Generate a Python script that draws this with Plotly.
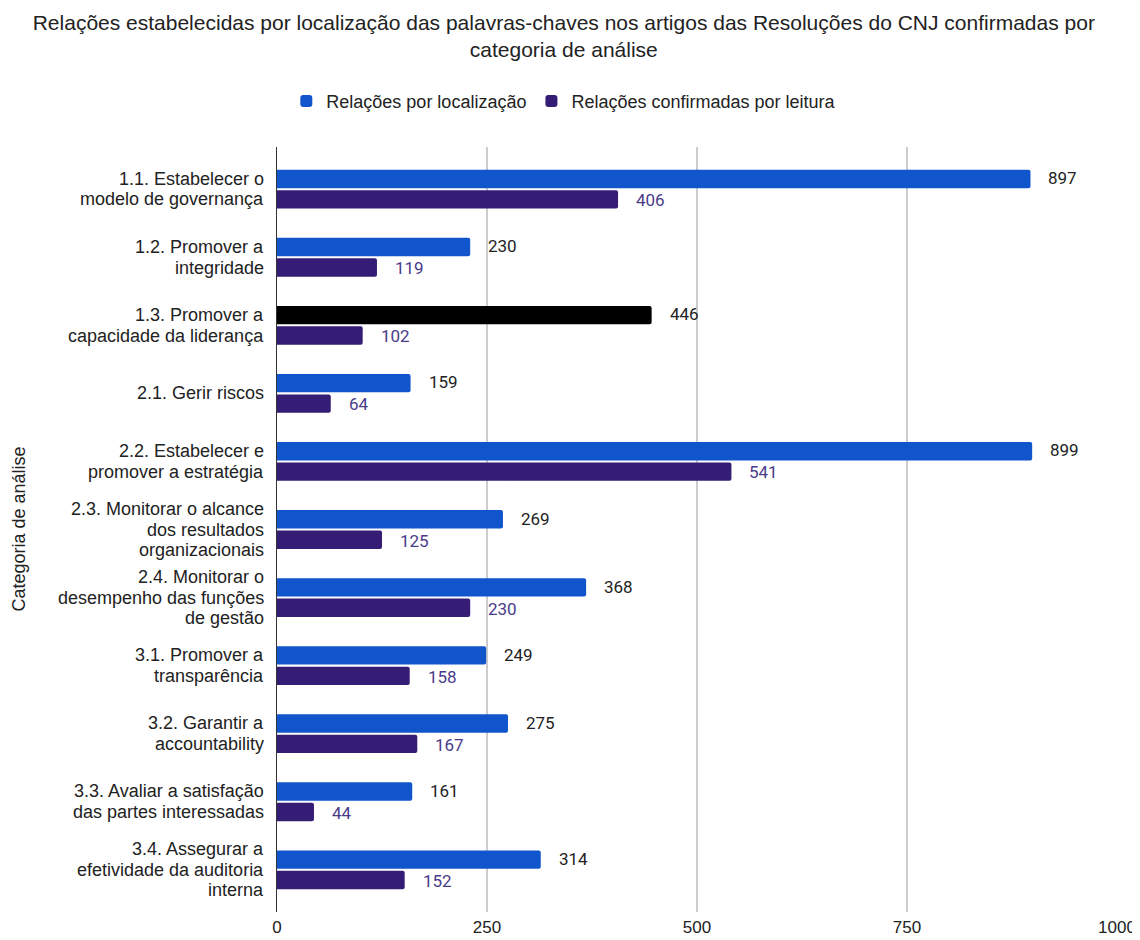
import plotly.graph_objects as go

categories = [
    "1.1. Estabelecer o<br>modelo de governança",
    "1.2. Promover a<br>integridade",
    "1.3. Promover a<br>capacidade da liderança",
    "2.1. Gerir riscos",
    "2.2. Estabelecer e<br>promover a estratégia",
    "2.3. Monitorar o alcance<br>dos resultados<br>organizacionais",
    "2.4. Monitorar o<br>desempenho das funções<br>de gestão",
    "3.1. Promover a<br>transparência",
    "3.2. Garantir a<br>accountability",
    "3.3. Avaliar a satisfação<br>das partes interessadas",
    "3.4. Assegurar a<br>efetividade da auditoria<br>interna",
]
localizacao = [897, 230, 446, 159, 899, 269, 368, 249, 275, 161, 314]
leitura = [406, 119, 102, 64, 541, 125, 230, 158, 167, 44, 152]
x_ticks = [0, 250, 500, 750, 1000]

BLUE = "#1155cc"
PURPLE = "#351c75"
blue_colors = ["#000000" if c.startswith("1.3.") else BLUE for c in categories]
ARIAL = "Liberation Sans, Arial"
LINE_H = 20.5

fig = go.Figure()
fig.add_trace(go.Bar(
    y=categories, x=localizacao, orientation="h", name="Relações por localização",
    marker=dict(color=blue_colors, line=dict(width=0)),
))
fig.add_trace(go.Bar(
    y=categories, x=leitura, orientation="h", name="Relações confirmadas por leitura",
    marker=dict(color=PURPLE, line=dict(width=0)),
))

annotations = []
for c, v in zip(categories, localizacao):
    annotations.append(dict(x=v, y=c, text=str(v), showarrow=False, xanchor="left",
                            xshift=16, yshift=11,
                            font=dict(family="Roboto", size=17, color="#222222")))
for c, v in zip(categories, leitura):
    annotations.append(dict(x=v, y=c, text=str(v), showarrow=False, xanchor="left",
                            xshift=16, yshift=-11,
                            font=dict(family="Roboto", size=17, color="#4a3b8a")))
# category labels, one annotation per line for a tighter line spacing
for c in categories:
    lines = c.split("<br>")
    n = len(lines)
    for i, ln in enumerate(lines):
        annotations.append(dict(xref="paper", x=0, y=c, text=ln, showarrow=False,
                                xanchor="right", xshift=-12, borderpad=0,
                                yshift=((n - 1) / 2 - i) * LINE_H,
                                font=dict(family=ARIAL, size=18, color="#222222")))
annotations.append(dict(xref="paper", yref="paper", x=-0.3083, y=0.5,
                        text="Categoria de análise", textangle=-90, showarrow=False,
                        xanchor="center", yanchor="middle",
                        font=dict(family=ARIAL, size=18, color="#222222")))

# the page body adds an 8px offset, so the figure is sized 8px smaller
fig.update_layout(
    width=1132, height=932,
    paper_bgcolor="white", plot_bgcolor="white",
    margin=dict(l=269, r=23, t=139, b=28),
    barmode="group", bargap=0.4, bargroupgap=0.1, barcornerradius=2,
    title=dict(
        text="Relações estabelecidas por localização das palavras-chaves nos artigos das Resoluções do CNJ confirmadas por<br>categoria de análise",
        x=0.491, xanchor="center", y=0.9766, yanchor="top",
        font=dict(family=ARIAL, size=21, color="#222222"),
    ),
    legend=dict(orientation="h", xref="container", x=0.491, xanchor="center",
                yref="container", y=0.9, yanchor="middle",
                font=dict(family=ARIAL, size=18, color="#222222"),
                itemwidth=30, traceorder="normal"),
    xaxis=dict(range=[0, 1000], tickvals=x_ticks, ticktext=[str(t) for t in x_ticks],
               showgrid=True, gridcolor="#cccccc", gridwidth=2,
               zeroline=False, showline=False, automargin=False, ticklabelstandoff=3,
               tickfont=dict(family=ARIAL, size=17, color="#222222"), ticks=""),
    yaxis=dict(range=[10.62, -0.62], showgrid=False, showline=True, linecolor="#333333",
               linewidth=1, ticks="", showticklabels=False, automargin=False),
    annotations=annotations,
)
fig.write_html("out.html")
